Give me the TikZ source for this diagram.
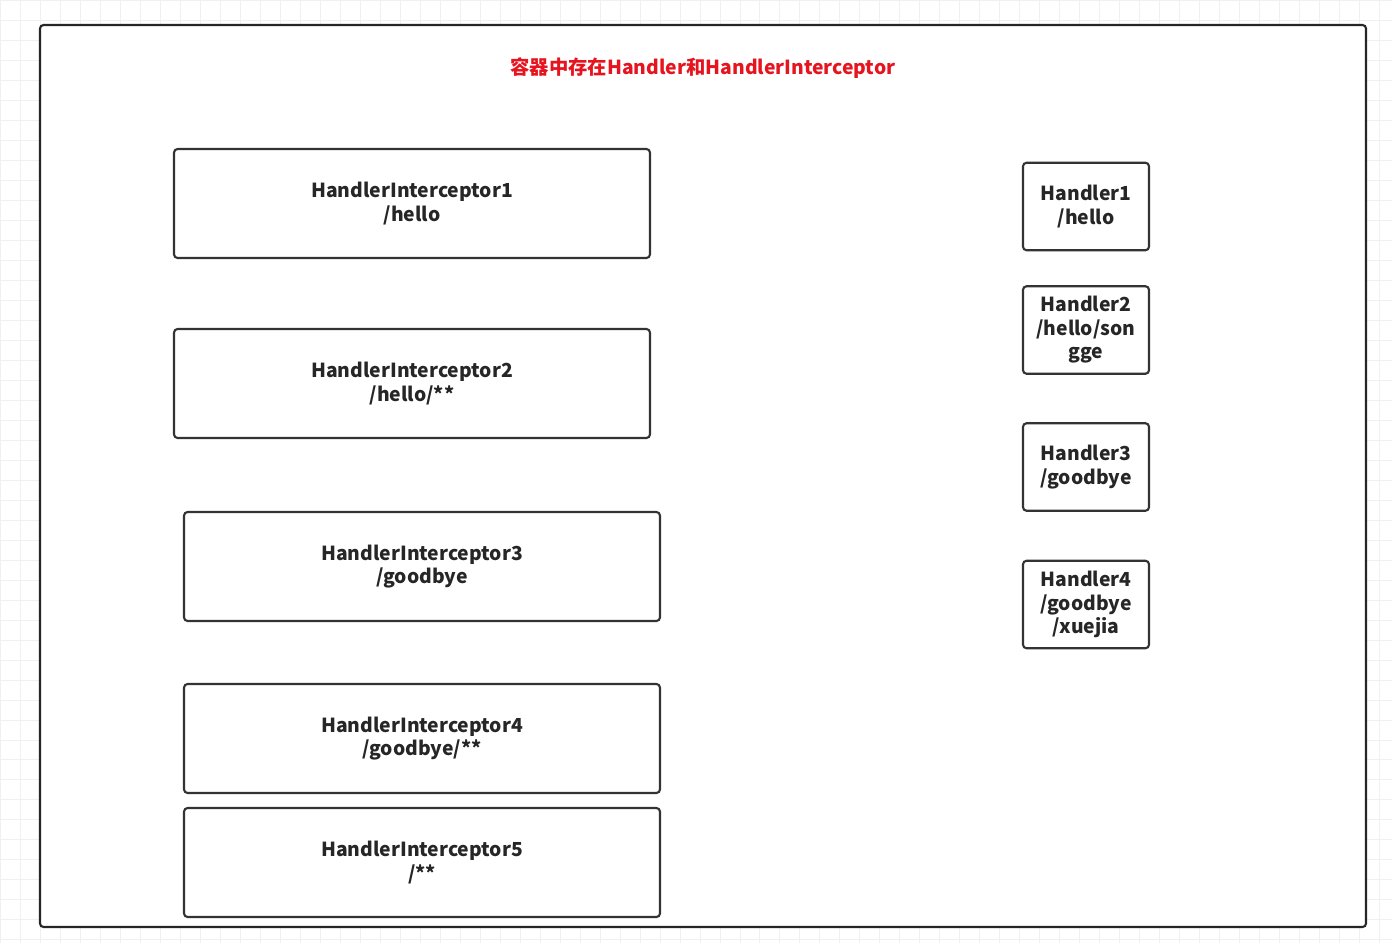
\documentclass[tikz,border=0pt]{standalone}
\usepackage{fontspec}
\setmainfont{Noto Sans CJK SC}
\usetikzlibrary{positioning}
\tikzset{
  box/.style={draw=black!80, line width=1.2pt, rounded corners=2pt, align=center,
    font=\bfseries\fontsize{11}{13.4}\selectfont, text=black!85, inner sep=0pt},
}
\begin{document}
\begin{tikzpicture}[x=0.02cm, y=-0.02cm]
  \useasboundingbox (0,0) rectangle (1392,943);
  \draw[black!6, step=0.4cm] (0,0) grid (1392,943);
  \fill[white] (40,25) rectangle (1366,927);
  \draw[black!85, line width=1.2pt, rounded corners=2pt] (40,25) rectangle (1366,927);
  \node[font=\bfseries\fontsize{11}{13.4}\selectfont, text={rgb,255:red,230;green,20;blue,30}] (title) at (703,68) {容器中存在Handler和HandlerInterceptor};

  % interceptors
  \node[box, minimum width=9.52cm, minimum height=2.18cm] (hi1) at (412,203.5) {HandlerInterceptor1\\/hello};
  \node[box, minimum width=9.52cm, minimum height=2.18cm] (hi2) at (412,383.5) {HandlerInterceptor2\\/hello/**};
  \node[box, minimum width=9.52cm, minimum height=2.18cm] (hi3) at (422,566.5) {HandlerInterceptor3\\/goodbye};
  \node[box, minimum width=9.52cm, minimum height=2.18cm] (hi4) at (422,738.5) {HandlerInterceptor4\\/goodbye/**};
  \node[box, minimum width=9.52cm, minimum height=2.18cm] (hi5) at (422,862.5) {HandlerInterceptor5\\/**};

  % handlers
  \node[box, minimum width=2.52cm, minimum height=1.75cm] (h1) at (1086,206.5) {Handler1\\/hello};
  \node[box, minimum width=2.52cm, minimum height=1.75cm] (h2) at (1086,330) {Handler2\\/hello/son\\gge};
  \node[box, minimum width=2.52cm, minimum height=1.75cm] (h3) at (1086,467) {Handler3\\/goodbye};
  \node[box, minimum width=2.52cm, minimum height=1.75cm] (h4) at (1086,604.5) {Handler4\\/goodbye\\/xuejia};
\end{tikzpicture}
\end{document}
